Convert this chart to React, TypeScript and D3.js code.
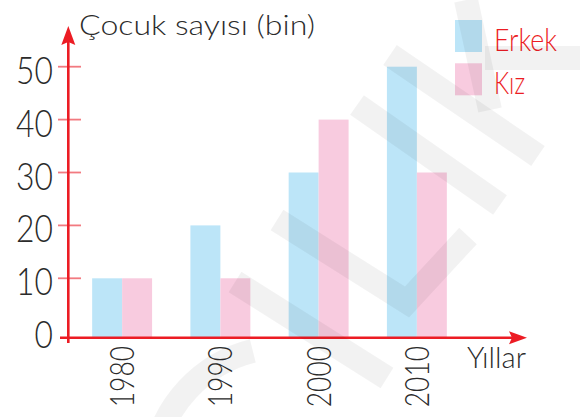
import React, { useRef, useEffect } from "react";
import * as d3 from "d3";

const years = ["1980", "1990", "2000", "2010"];
const series = ["Erkek", "Kız"];
const erkek = [10, 20, 30, 50];
const kiz = [10, 10, 40, 30];
const yTicks = [10, 20, 30, 40, 50];

const W = 580;
const H = 417;
const RED = "#ec1c24";
const TEXT = "#2b2b2b";
const FONT = "Lato, 'Open Sans', sans-serif";
const colors = ["#bce5f8", "#f8cbdf"];

const App = () => {
  const ref = useRef<SVGSVGElement>(null);

  useEffect(() => {
    const svg = d3.select(ref.current);
    svg.selectAll("*").remove();

    const axisX = 68.3;
    const axisY = 337.7;

    const x = d3
      .scaleBand()
      .domain(years)
      .range([73, 466])
      .paddingInner(0.39)
      .paddingOuter(0.195);

    const xSub = d3.scaleBand().domain(series).range([0, x.bandwidth()]);

    const y = d3.scaleLinear().domain([0, 50]).range([331.2, 66.7]);

    const color = d3.scaleOrdinal<string>().domain(series).range(colors);

    const rows = years.map((yr, i) => ({
      year: yr,
      values: [
        { key: "Erkek", value: erkek[i] },
        { key: "Kız", value: kiz[i] },
      ],
    }));

    // bars
    svg
      .append("g")
      .selectAll("g")
      .data(rows)
      .join("g")
      .attr("transform", (d) => `translate(${x(d.year)},0)`)
      .selectAll("rect")
      .data((d) => d.values)
      .join("rect")
      .attr("x", (d) => xSub(d.key)!)
      .attr("y", (d) => y(d.value))
      .attr("width", xSub.bandwidth())
      .attr("height", (d) => axisY - y(d.value))
      .attr("fill", (d) => color(d.key));

    // legend
    const legend = svg
      .append("g")
      .selectAll("g")
      .data(series)
      .join("g")
      .attr("transform", (d, i) => `translate(455,${20 + i * 43.3})`);
    legend
      .append("rect")
      .attr("width", 27)
      .attr("height", 32)
      .attr("fill", (d) => color(d));
    legend
      .append("text")
      .attr("x", 39)
      .attr("y", 31)
      .attr("fill", RED)
      .attr("font-family", FONT)
      .attr("font-weight", 300)
      .attr("font-size", 32)
      .attr("textLength", (d) => (d === "Erkek" ? 63 : 31))
      .attr("lengthAdjust", "spacingAndGlyphs")
      .text((d) => d);

    // y ticks
    svg
      .append("g")
      .selectAll("line")
      .data(yTicks)
      .join("line")
      .attr("x1", 58)
      .attr("x2", 81)
      .attr("y1", (d) => y(d))
      .attr("y2", (d) => y(d))
      .attr("stroke", "#f27a80")
      .attr("stroke-width", 1.8);

    svg
      .append("g")
      .selectAll("text")
      .data([0, ...yTicks])
      .join("text")
      .attr("transform", (d) => `translate(53,${y(d) + 17}) scale(0.86,1)`)
      .attr("text-anchor", "end")
      .attr("fill", TEXT)
      .attr("font-family", FONT)
      .attr("font-weight", 300)
      .attr("font-size", 37)
      .text((d) => d);

    // year labels
    svg
      .append("g")
      .selectAll("text")
      .data(years)
      .join("text")
      .attr(
        "transform",
        (d) =>
          `translate(${x(d)! + x.bandwidth() / 2 + 12},346) rotate(-90) scale(0.8,1)`
      )
      .attr("text-anchor", "end")
      .attr("fill", TEXT)
      .attr("font-family", FONT)
      .attr("font-weight", 300)
      .attr("font-size", 33)
      .text((d) => d);

    // axes
    svg
      .append("line")
      .attr("x1", 60)
      .attr("x2", 512)
      .attr("y1", axisY)
      .attr("y2", axisY)
      .attr("stroke", RED)
      .attr("stroke-width", 2.6);
    svg
      .append("path")
      .attr(
        "d",
        `M527,${axisY} L509,${axisY - 6.5} L512,${axisY} L509,${axisY + 6.5} Z`
      )
      .attr("fill", RED);
    svg
      .append("line")
      .attr("x1", axisX)
      .attr("x2", axisX)
      .attr("y1", 343)
      .attr("y2", 42)
      .attr("stroke", RED)
      .attr("stroke-width", 2.6);
    svg
      .append("path")
      .attr("d", `M${axisX},26 L${axisX + 7},45 L${axisX},42 L${axisX - 7},45 Z`)
      .attr("fill", RED);

    // titles
    svg
      .append("text")
      .attr("x", 79)
      .attr("y", 35)
      .attr("fill", TEXT)
      .attr("font-family", FONT)
      .attr("font-weight", 300)
      .attr("font-size", 28)
      .attr("textLength", 236)
      .attr("lengthAdjust", "spacingAndGlyphs")
      .text("Çocuk sayısı (bin)");
    svg
      .append("text")
      .attr("x", 467)
      .attr("y", 368)
      .attr("fill", TEXT)
      .attr("font-family", FONT)
      .attr("font-weight", 300)
      .attr("font-size", 29)
      .attr("textLength", 59)
      .attr("lengthAdjust", "spacingAndGlyphs")
      .text("Yıllar");

    // faint watermark
    const wm = svg
      .append("g")
      .attr("fill", "none")
      .attr("stroke", "#000")
      .attr("stroke-opacity", 0.05)
      .attr("stroke-width", 24);
    const bands = [
      [[235, 282], [387, 378]],
      [[277, 220], [407, 302], [468, 236]],
      [[357, 105], [500, 205]],
      [[390, 55], [538, 156]],
      [[466, 0], [490, 110]],
      [[485, 58], [580, 58]],
    ];
    wm.selectAll("path.band")
      .data(bands)
      .join("path")
      .attr("class", "band")
      .attr("stroke-linejoin", "miter")
      .attr("d", (d) => d3.line()(d as [number, number][]));
    const arc = d3.path();
    const deg = Math.PI / 180;
    arc.arc(285, 480, 133, 190 * deg, 256 * deg);
    wm.append("path").attr("d", arc.toString());
  }, []);

  return (
    <svg
      ref={ref}
      width={W}
      height={H}
      style={{ position: "fixed", left: 0, top: 0, background: "#fff" }}
    />
  );
};

export default App;
